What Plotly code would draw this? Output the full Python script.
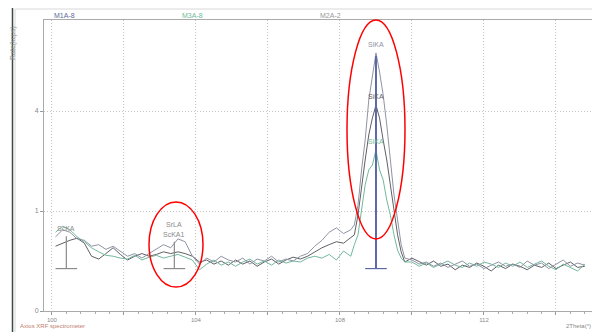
import numpy as np
import plotly.graph_objects as go

# 2Theta sampling positions (degrees)
two_theta = np.round(np.concatenate([
    np.arange(100.1, 108.31, 0.2),
    np.arange(108.4, 109.81, 0.1),
    np.arange(110.0, 114.81, 0.2),
]), 2)

# Count rates (kcps)
m2a_2 = [0.55, 0.66, 0.62, 0.52, 0.50, 0.42, 0.44, 0.38, 0.42, 0.36, 0.30, 0.33, 0.28, 0.33,
         0.38, 0.44, 0.40, 0.52, 0.48, 0.30, 0.22, 0.28, 0.24, 0.30, 0.26, 0.24, 0.28, 0.22,
         0.27, 0.25, 0.30, 0.24, 0.27, 0.25, 0.30, 0.33, 0.42, 0.50, 0.62, 0.69, 0.60, 0.66,
         0.74, 1.12, 1.99, 2.92, 4.45, 5.57, 6.66, 5.71, 4.67, 3.46, 2.28, 1.35, 0.83, 0.44, 0.28,
         0.26, 0.22, 0.24, 0.20, 0.23, 0.19, 0.22, 0.25, 0.20, 0.22, 0.18, 0.21, 0.24, 0.20,
         0.22, 0.19, 0.25, 0.21, 0.23, 0.18, 0.22, 0.26, 0.20, 0.23, 0.21]
m1a_8 = [0.42, 0.46, 0.50, 0.53, 0.46, 0.30, 0.27, 0.33, 0.40, 0.32, 0.26, 0.30, 0.33, 0.30,
         0.32, 0.35, 0.33, 0.35, 0.33, 0.30, 0.24, 0.26, 0.22, 0.25, 0.21, 0.26, 0.22, 0.25,
         0.20, 0.24, 0.27, 0.22, 0.26, 0.29, 0.27, 0.30, 0.35, 0.40, 0.44, 0.48, 0.46, 0.54,
         0.58, 0.92, 1.59, 2.28, 3.10, 3.72, 4.24, 3.72, 2.92, 2.28, 1.59, 1.02, 0.58, 0.35, 0.24,
         0.28, 0.24, 0.21, 0.25, 0.20, 0.22, 0.17, 0.21, 0.19, 0.23, 0.20, 0.16, 0.21, 0.18,
         0.22, 0.20, 0.17, 0.21, 0.19, 0.23, 0.18, 0.21, 0.24, 0.19, 0.20]
m3a_8 = [0.62, 0.72, 0.66, 0.55, 0.48, 0.40, 0.35, 0.31, 0.30, 0.28, 0.27, 0.31, 0.26, 0.29,
         0.31, 0.28, 0.30, 0.32, 0.29, 0.26, 0.17, 0.22, 0.26, 0.21, 0.24, 0.20, 0.24, 0.27,
         0.22, 0.25, 0.21, 0.26, 0.23, 0.25, 0.24, 0.28, 0.30, 0.28, 0.32, 0.26, 0.36, 0.30,
         0.44, 0.58, 1.02, 1.59, 1.99, 2.13, 2.59, 1.99, 1.72, 1.23, 0.92, 0.58, 0.37, 0.28, 0.24,
         0.24, 0.20, 0.23, 0.19, 0.22, 0.25, 0.21, 0.19, 0.23, 0.20, 0.24, 0.22, 0.19, 0.23,
         0.20, 0.24, 0.19, 0.22, 0.25, 0.20, 0.17, 0.22, 0.19, 0.16, 0.22]

series_names = ["M1A-8", "M3A-8", "M2A-2"]
series_colors = ["#5f5f66", "#72b89c", "#8e94a4"]
name_colors = ["#5a6a9a", "#72b89c", "#999999"]
series_values = [m1a_8, m3a_8, m2a_2]

# Element line markers: position, top (kcps), base (kcps), labels
line_pos = [100.4, 103.4, 109.0]
line_top = [0.56, 0.48, 6.5]
line_base = [0.18, 0.18, 0.18]
line_labels = [["ScKA"], ["SrLA", "ScKA1"], []]
line_colors = ["#8a8a8a", "#8a8a8a", "#5a68a8"]

si_peak_labels = ["SiKA", "SiKA", "SiKA"]
si_peak_values = [4.24, 2.59, 6.66]

x_ticks = [100, 102, 104, 106, 108, 110, 112, 114]
x_ticktext = ["100", "", "104", "", "108", "", "112", ""]
y_ticks = [0, 1, 4]

fig = go.Figure()
for name, col, vals in zip(series_names, series_colors, series_values):
    fig.add_trace(go.Scatter(x=two_theta, y=np.sqrt(vals), mode="lines", name=name,
                             line=dict(color=col, width=1), showlegend=False))

# Element lines
for p, t, b, c in zip(line_pos, line_top, line_base, line_colors):
    w = 2 if c == "#5a68a8" else 1.2
    fig.add_trace(go.Scatter(x=[p, p], y=[np.sqrt(b), np.sqrt(t)], mode="lines",
                             line=dict(color=c, width=w), showlegend=False, hoverinfo="skip"))
    fig.add_trace(go.Scatter(x=[p - 0.3, p + 0.3], y=[np.sqrt(b), np.sqrt(b)], mode="lines",
                             line=dict(color=c, width=1.2), showlegend=False, hoverinfo="skip"))

annotations = []
for p, t, labs in zip(line_pos, line_top, line_labels):
    for i, lab in enumerate(labs):
        annotations.append(dict(x=p, y=np.sqrt(t), xref="x", yref="y", text=lab, showarrow=False,
                                yshift=2 + 10 * (len(labs) - 1 - i), yanchor="bottom",
                                font=dict(size=7, color="#8a8a8a")))
for lab, v, col in zip(si_peak_labels, si_peak_values, series_colors):
    annotations.append(dict(x=109.0, y=np.sqrt(v), xref="x", yref="y", text=lab, showarrow=False,
                            yanchor="bottom", yshift=3, font=dict(size=7, color=col)))


# page coordinates -> paper fractions (plot area spans page x 44..592, y 20..311;
# the page body adds an 8px offset, so the figure itself is 592x324)
def px(xp):
    return (xp - 44) / 548.0


def py(yp):
    return (311 - yp) / 291.0


# Series names at top
for name, col, xp in zip(series_names, name_colors, [52, 180, 318]):
    annotations.append(dict(x=px(xp), y=py(15), xref="paper", yref="paper", text=name,
                            showarrow=False, xanchor="left", yanchor="middle",
                            font=dict(size=7, color=col)))

annotations.append(dict(x=px(13), y=py(24), xref="paper", yref="paper", text="Rate(kcps)",
                        textangle=-90, showarrow=False, xanchor="center", yanchor="top",
                        font=dict(size=7, color="#8a8a8a")))
annotations.append(dict(x=px(18), y=py(326), xref="paper", yref="paper",
                        text="Axios XRF spectrometer", showarrow=False, xanchor="left",
                        yanchor="middle", font=dict(size=6, color="#c08070")))
annotations.append(dict(x=px(593), y=py(326), xref="paper", yref="paper", text="2Theta(°)",
                        showarrow=False, xanchor="right", yanchor="middle",
                        font=dict(size=6, color="#888888")))

shapes = [
    dict(type="line", xref="paper", yref="paper", x0=px(12.5), x1=px(12.5), y0=py(0), y1=py(332),
         line=dict(color="#3a4a40", width=1.5)),
    dict(type="rect", xref="paper", yref="paper", x0=px(15), x1=px(598), y0=py(9), y1=py(340),
         line=dict(color="#d8d8d8", width=1)),
    dict(type="circle", xref="paper", yref="paper", x0=px(149), x1=px(203), y0=py(287), y1=py(202),
         line=dict(color="red", width=1.5), layer="above"),
    dict(type="circle", xref="paper", yref="paper", x0=px(347), x1=px(405), y0=py(239), y1=py(20),
         line=dict(color="red", width=1.5), layer="above"),
]

fig.update_layout(
    width=592, height=324,
    margin=dict(l=36, r=8, t=12, b=21, autoexpand=False),
    paper_bgcolor="white", plot_bgcolor="white",
    font=dict(family="Liberation Sans, Arial, sans-serif", size=7, color="#888888"),
    annotations=annotations, shapes=shapes,
)
fig.update_xaxes(range=[99.78, 115.0], tickvals=x_ticks, ticktext=x_ticktext,
                 ticks="outside", ticklen=3, tickcolor="#999999",
                 showgrid=True, gridcolor="#c4c4c4", griddash="1px,2px",
                 zeroline=False, automargin=False,
                 showline=True, linecolor="#aaaaaa", mirror=True,
                 minor=dict(dtick=0.4, tick0=100, showgrid=False, ticks="outside",
                            ticklen=2, tickcolor="#aaaaaa"),
                 tickfont=dict(size=6, color="#888888"))
fig.update_yaxes(range=[0, 2.91], tickvals=np.sqrt(y_ticks), automargin=False,
                 ticktext=[str(t) for t in y_ticks], ticks="outside", ticklen=3,
                 tickcolor="#999999", showgrid=True, gridcolor="#c4c4c4", griddash="1px,2px",
                 zeroline=False, showline=True, linecolor="#aaaaaa", mirror=True,
                 tickfont=dict(size=7, color="#888888"))

fig.write_html("out.html", config={"displayModeBar": False})
